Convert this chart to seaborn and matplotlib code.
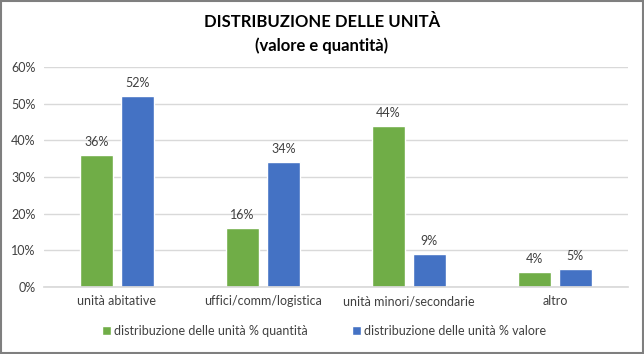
import pandas as pd
import seaborn as sns
import matplotlib.pyplot as plt
from matplotlib.patches import Rectangle
from matplotlib.ticker import PercentFormatter

# Chart data
categories = ["unità abitative", "uffici/comm/logistica", "unità minori/secondarie", "altro"]
quantita = [36, 16, 44, 4]
valore = [52, 34, 9, 5]
series_names = ["distribuzione delle unità % quantità", "distribuzione delle unità % valore"]

df = pd.DataFrame({"categoria": categories, series_names[0]: quantita, series_names[1]: valore})
df_melted = df.melt(id_vars=["categoria"], var_name="serie", value_name="percentuale")

sns.set_theme(style="white")
plt.rcParams["font.family"] = ["Lato", "DejaVu Sans"]

fig = plt.figure(figsize=(6.44, 3.54), dpi=100)
ax = fig.add_axes([0.068, 0.189, 0.907, 0.622])

sns.barplot(x="categoria", y="percentuale", hue="serie", data=df_melted,
            palette=["#70AD47", "#4472C4"], width=0.56, gap=0.2, ax=ax,
            saturation=1, legend=True)

ax.set_ylim(0, 60)
ax.set_xlim(-0.5, 3.5)
ax.set_yticks(range(0, 61, 10))
ax.yaxis.set_major_formatter(PercentFormatter(decimals=0))
ax.grid(axis="y", color="#d9d9d9", linewidth=1)
ax.set_axisbelow(True)
for s in ["top", "right", "left"]:
    ax.spines[s].set_visible(False)
ax.spines["bottom"].set_color("#d9d9d9")
ax.tick_params(axis="both", labelsize=9, colors="#404040", length=0, pad=6)
ax.set_xlabel("")
ax.set_ylabel("")

for c in ax.containers:
    ax.bar_label(c, fmt="%d%%", fontsize=9, color="#404040", padding=5)

ax.legend(loc="upper center", bbox_to_anchor=(0.48, -0.12), ncol=2, frameon=False,
          fontsize=9, handlelength=0.7, handleheight=0.7, columnspacing=3.5,
          handletextpad=0.3, labelcolor="#404040")

fig.text(0.5, 0.938, "DISTRIBUZIONE DELLE UNITÀ", ha="center", va="center",
         fontsize=12, fontweight="bold", color="#000000")
fig.text(0.5, 0.87, "(valore e quantità)", ha="center", va="center",
         fontsize=12, fontweight="bold", color="#000000")

fig.patches.append(Rectangle((0.002, 0.003), 0.996, 0.994, transform=fig.transFigure,
                             fill=False, edgecolor="#7f7f7f", linewidth=1.5))

fig.savefig("out.png", dpi=100)
